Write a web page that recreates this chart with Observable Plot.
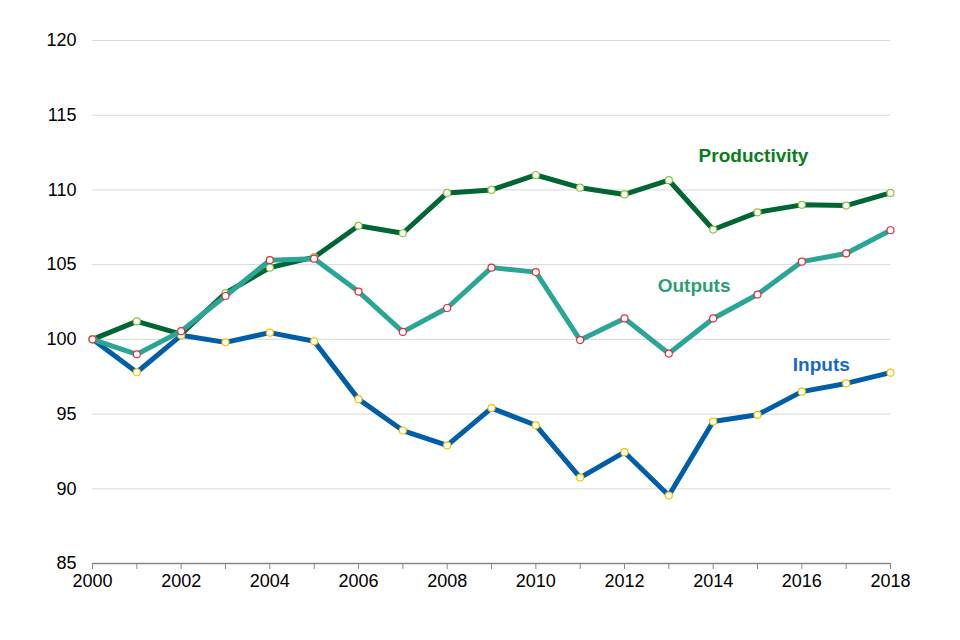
<!DOCTYPE html>
<html>
<head>
<meta charset="utf-8">
<script src="https://cdn.jsdelivr.net/npm/d3@7"></script>
<script src="https://cdn.jsdelivr.net/npm/@observablehq/plot@0.6"></script>
<style>
  html, body { margin: 0; padding: 0; background: #fff; }
  #chart svg { display: block; font-family: "Liberation Sans", Arial, sans-serif; }
  #chart svg g[aria-label$="tick label"] { font-size: 18px; }
</style>
</head>
<body>
<div id="chart"></div>
<script>
const years = [2000,2001,2002,2003,2004,2005,2006,2007,2008,2009,2010,2011,2012,2013,2014,2015,2016,2017,2018];
const productivity = [100,101.2,100.35,103.1,104.8,105.5,107.6,107.1,109.8,110.0,111.0,110.15,109.7,110.65,107.35,108.5,109.0,108.95,109.8];
const outputs = [100,99.0,100.55,102.9,105.3,105.4,103.2,100.5,102.1,104.8,104.5,99.95,101.4,99.05,101.4,103.0,105.2,105.75,107.3];
const inputs = [100,97.8,100.27,99.8,100.45,99.87,96.0,93.9,92.9,95.4,94.25,90.75,92.45,89.55,94.5,94.95,96.5,97.05,97.77];
const yTicks = [85,90,95,100,105,110,115,120];
const seriesNames = ["Productivity","Inputs","Outputs"];
const labelNames = ["Productivity","Outputs","Inputs"];
const labelYears = [2014.91, 2013.57, 2016.44];
const labelValues = [112.25, 103.55, 98.26];

const seriesData = {
  Productivity: years.map((y,i)=>({year:y, value:productivity[i]})),
  Outputs: years.map((y,i)=>({year:y, value:outputs[i]})),
  Inputs: years.map((y,i)=>({year:y, value:inputs[i]}))
};
const lineColor = {Productivity:"#006633", Outputs:"#2aa596", Inputs:"#005ea8"};
const pointColor = {Productivity:"#8cc63f", Outputs:"#e0303c", Inputs:"#f5c400"};
const textColor = {Productivity:"#0a7d1e", Outputs:"#2e9e72", Inputs:"#1769c9"};

const marks = [
  Plot.gridY(yTicks, {stroke:"#d9d9d9", strokeOpacity:1, strokeWidth:1}),
  Plot.axisY(yTicks, {tickSize:0, tickPadding:16, fontSize:18, fill:"#000", label:null}),
  Plot.ruleY([85], {stroke:"#888", strokeWidth:1.3}),
  Plot.axisX(years, {tickSize:6, stroke:"#888", tickFormat: d => d % 2 === 0 ? String(d) : "", fontSize:18, fill:"#000", tickPadding:5, label:null})
];
for (const s of seriesNames) {
  marks.push(Plot.line(seriesData[s], {x:"year", y:"value", stroke:lineColor[s], strokeWidth:5, strokeLinejoin:"miter", strokeLinecap:"butt"}));
  marks.push(Plot.dot(seriesData[s], {x:"year", y:"value", r:3.5, fill:"#fff", stroke:pointColor[s], strokeWidth:1.2}));
}
const labels = labelNames.map((s,i)=>({name:s, year:labelYears[i], value:labelValues[i]}));
marks.push(Plot.text(labels, {x:"year", y:"value", text:"name", fill: d => textColor[d.name], fontSize:19, fontWeight:"bold"}));

const chart = Plot.plot({
  width:960, height:640,
  marginLeft:92, marginRight:70, marginTop:40, marginBottom:77,
  x:{domain:[2000,2018]},
  y:{domain:[85,120]},
  style:{fontFamily:"Liberation Sans, Arial, sans-serif", fontSize:"18px", background:"#fff"},
  marks
});
document.getElementById("chart").appendChild(chart);
</script>
</body>
</html>
